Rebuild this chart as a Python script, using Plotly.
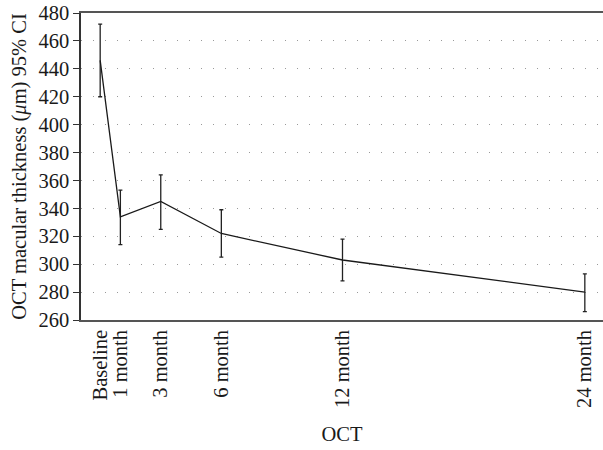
import plotly.graph_objects as go

months = [0, 1, 3, 6, 12, 24]
labels = ["Baseline", "1 month", "3 month", "6 month", "12 month", "24 month"]
mean_thickness = [446, 334, 345, 322, 303, 280]
ci_upper = [472, 353, 364, 339, 318, 293]
ci_lower = [420, 314, 325, 305, 288, 266]

err_plus = [u - m for u, m in zip(ci_upper, mean_thickness)]
err_minus = [m - l for m, l in zip(mean_thickness, ci_lower)]

font_family = "Liberation Serif, Times New Roman, serif"
fs = 20.5

fig = go.Figure()
fig.add_trace(go.Scatter(
    x=months, y=mean_thickness, mode="lines",
    line=dict(color="#1a1a1a", width=1.3),
    error_y=dict(type="data", symmetric=False, array=err_plus, arrayminus=err_minus,
                 color="#222222", thickness=1.3, width=2),
    showlegend=False,
))

fig.update_layout(
    width=603, height=450,
    margin=dict(l=81, r=0, t=13, b=130),
    paper_bgcolor="white", plot_bgcolor="white",
    font=dict(family=font_family, size=fs, color="#1a1a1a"),
    xaxis=dict(
        range=[-0.95, 24.9],
        tickmode="array", tickvals=months, ticktext=labels,
        tickangle=-90, showgrid=False, zeroline=False,
        showline=True, linecolor="#555555", linewidth=1.5, mirror=True,
        ticks="", tickfont=dict(size=fs),
        title=dict(text="OCT", font=dict(size=fs), standoff=20),
    ),
    yaxis=dict(
        range=[260, 480], dtick=20, tick0=260,
        showgrid=True, gridcolor="#999999", gridwidth=1,
        griddash="1px,11px",
        zeroline=False, showline=True, linecolor="#333333", linewidth=1.5,
        ticks="outside", ticklen=6, tickcolor="#333333",
        tickfont=dict(size=fs),
        title=dict(text="OCT macular thickness (<i>μ</i>m) 95% CI", font=dict(size=fs), standoff=6),
    ),
)

fig.write_html("out.html", config={"displayModeBar": False},
               post_script="document.body.style.margin='0';document.body.style.overflow='hidden';")
